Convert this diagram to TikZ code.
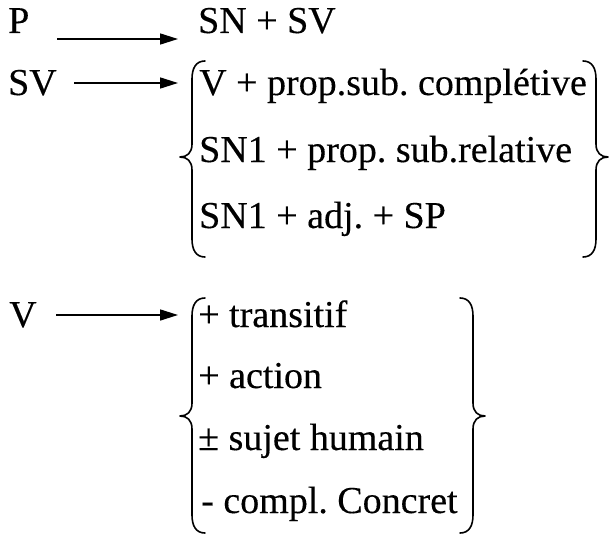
\documentclass[tikz,border=0pt]{standalone}
\usepackage{fontspec}
\setmainfont{Liberation Serif}[FakeBold=0.3]
\usetikzlibrary{arrows.meta}
\frenchspacing

\tikzset{
  lbl/.style={anchor=base west, inner sep=0pt, font=\fontsize{38}{45}\selectfont},
  arr/.style={line width=1.6pt, -{Triangle[length=18pt,width=11pt]}},
  brace/.style={line width=1.6pt, line cap=round, line join=round},
}

% left curly brace: vertical line at #1, from #2 (top) to #3 (bottom), tip at #4
\newcommand{\leftcurly}[4]{%
  \draw[brace] (#1+13,#2) .. controls (#1+4,#2) and (#1,#2+7) .. (#1,#2+18)
    -- (#1,#4-13) .. controls (#1,#4-4) and (#1-5,#4) .. (#1-12,#4)
    .. controls (#1-5,#4) and (#1,#4+4) .. (#1,#4+13)
    -- (#1,#3-18) .. controls (#1,#3-7) and (#1+4,#3) .. (#1+13,#3);}
% right curly brace, mirror image of the left one
\newcommand{\rightcurly}[4]{%
  \draw[brace] (#1-13,#2) .. controls (#1-4,#2) and (#1,#2+7) .. (#1,#2+18)
    -- (#1,#4-13) .. controls (#1,#4-4) and (#1+5,#4) .. (#1+12,#4)
    .. controls (#1+5,#4) and (#1,#4+4) .. (#1,#4+13)
    -- (#1,#3-18) .. controls (#1,#3-7) and (#1-4,#3) .. (#1-13,#3);}

\begin{document}
\begin{tikzpicture}[x=1pt,y=-1pt]
  \useasboundingbox (0,0) rectangle (613,535);

  % first rule
  \node[lbl] (p) at (8,33) {P};
  \node[lbl] (snsv) at (198,33) {SN + SV};
  \coordinate (a1s) at (57,39);
  \coordinate (a1e) at (178,39);
  \draw[arr] (a1s) -- (a1e);

  % second rule
  \node[lbl] (sv) at (8,95) {SV};
  \coordinate (a2s) at (74,83);
  \coordinate (a2e) at (178,83);
  \draw[arr] (a2s) -- (a2e);
  \node[lbl] (r1) at (199,95) {V + prop.sub. complétive};
  \node[lbl] (r2) at (199,162) {SN1 + prop. sub.relative};
  \node[lbl] (r3) at (199,228) {SN1 + adj. + SP};
  \leftcurly{192}{61}{257}{157}
  \rightcurly{596}{61}{257}{157}

  % third rule
  \node[lbl] (v) at (9,327) {V};
  \coordinate (a3s) at (56,315);
  \coordinate (a3e) at (178,315);
  \draw[arr] (a3s) -- (a3e);
  \node[lbl] (f1) at (198,327) {+ transitif};
  \node[lbl] (f2) at (198,388) {+ action};
  \node[lbl] (f3) at (198,450) {± sujet humain};
  \node[lbl] (f4) at (201,513) {- compl. Concret};
  \leftcurly{192}{298}{533}{416}
  \rightcurly{473}{298}{533}{416}
\end{tikzpicture}
\end{document}
